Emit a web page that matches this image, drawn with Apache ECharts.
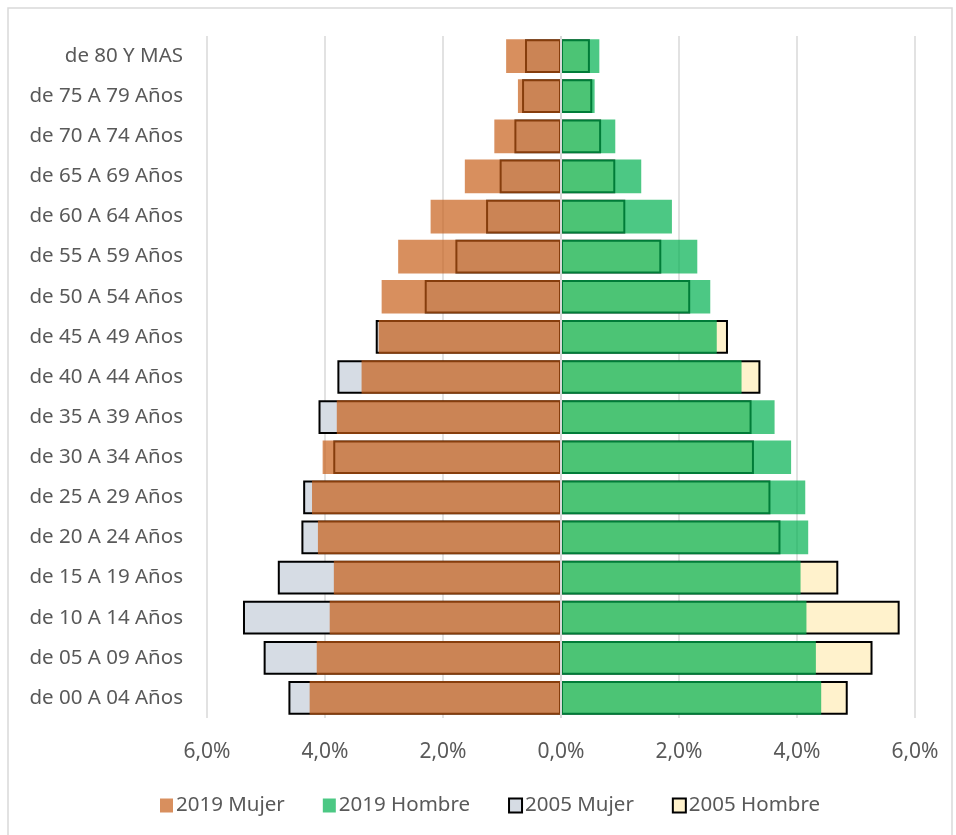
<!DOCTYPE html>
<html>
<head>
<meta charset="utf-8">
<script src="https://cdn.jsdelivr.net/npm/echarts@6/dist/echarts.min.js"></script>
<style>
  html, body { margin: 0; padding: 0; background: #fff; }
  #chart { width: 956px; height: 835px; }
</style>
</head>
<body>
<div id="chart"></div>
<script>
  // grupos de edad, de abajo hacia arriba
  const categories = [
    'de 00 A 04 Años', 'de 05 A 09 Años', 'de 10 A 14 Años', 'de 15 A 19 Años',
    'de 20 A 24 Años', 'de 25 A 29 Años', 'de 30 A 34 Años', 'de 35 A 39 Años',
    'de 40 A 44 Años', 'de 45 A 49 Años', 'de 50 A 54 Años', 'de 55 A 59 Años',
    'de 60 A 64 Años', 'de 65 A 69 Años', 'de 70 A 74 Años', 'de 75 A 79 Años',
    'de 80 Y MAS'
  ];
  // porcentajes (%)
  const mujer2019  = [4.26, 4.14, 3.92, 3.85, 4.12, 4.22, 4.04, 3.80, 3.38, 3.09, 3.04, 2.76, 2.21, 1.63, 1.13, 0.73, 0.93];
  const hombre2019 = [4.41, 4.32, 4.16, 4.06, 4.19, 4.14, 3.90, 3.62, 3.06, 2.64, 2.53, 2.31, 1.88, 1.36, 0.92, 0.57, 0.65];
  const mujer2005  = [4.62, 5.04, 5.39, 4.80, 4.40, 4.37, 3.86, 4.11, 3.79, 3.14, 2.31, 1.79, 1.27, 1.04, 0.79, 0.66, 0.61];
  const hombre2005 = [4.86, 5.28, 5.74, 4.70, 3.72, 3.55, 3.27, 3.23, 3.38, 2.83, 2.19, 1.70, 1.09, 0.92, 0.68, 0.53, 0.49];
  const xTicks = [-6, -4, -2, 0, 2, 4, 6];

  const FONT = '"Noto Sans", sans-serif';
  const TXT = '#595959';

  const myChart = echarts.init(document.getElementById('chart'));

  myChart.setOption({
    animation: false,
    graphic: [{
      type: 'rect',
      shape: { x: 8, y: 8, width: 944, height: 840 },
      style: { fill: 'none', stroke: '#D9D9D9', lineWidth: 1.5 },
      silent: true
    }],
    grid: { left: 207, right: 41, top: 36, bottom: 117 },
    legend: {
      data: ['2019 Mujer', '2019 Hombre', '2005 Mujer', '2005 Hombre'],
      bottom: 19,
      left: 160,
      padding: 0,
      icon: 'rect',
      itemWidth: 13,
      itemHeight: 14,
      itemGap: 38,
      textStyle: { fontFamily: FONT, fontSize: 20.5, color: TXT, padding: [0, 0, 0, -2] }
    },
    xAxis: {
      type: 'value',
      min: xTicks[0],
      max: xTicks[xTicks.length - 1],
      interval: 2,
      axisLine: { show: false },
      axisTick: { show: false },
      splitLine: { lineStyle: { color: '#D9D9D9', width: 1.5 } },
      axisLabel: {
        margin: 24,
        fontFamily: FONT, fontSize: 21, color: TXT,
        formatter: v => Math.abs(v).toFixed(1).replace('.', ',') + '%'
      }
    },
    yAxis: {
      type: 'category',
      data: categories,
      axisLine: { show: false },
      axisTick: { show: false },
      axisLabel: { margin: 24, fontFamily: FONT, fontSize: 20.5, color: TXT }
    },
    series: [
      {
        name: '2005 Mujer', type: 'bar', barGap: '-100%', barCategoryGap: '16%', z: 2,
        data: mujer2005.map(v => -v),
        itemStyle: { color: '#D6DCE4', borderColor: '#000', borderWidth: 2 }
      },
      {
        name: '2005 Hombre', type: 'bar', barGap: '-100%', barCategoryGap: '16%', z: 2,
        data: hombre2005,
        itemStyle: { color: '#FFF2CC', borderColor: '#000', borderWidth: 2 }
      },
      {
        name: '2019 Mujer', type: 'bar', barGap: '-100%', barCategoryGap: '16%', z: 3,
        data: mujer2019.map(v => -v),
        itemStyle: { color: '#C55A11', opacity: 0.68 }
      },
      {
        name: '2019 Hombre', type: 'bar', barGap: '-100%', barCategoryGap: '16%', z: 3,
        data: hombre2019,
        itemStyle: { color: '#00B050', opacity: 0.7 },
        markLine: {
          silent: true,
          symbol: 'none',
          label: { show: false },
          lineStyle: { color: '#D9D9D9', width: 2, type: 'solid' },
          data: [{ xAxis: 0 }],
          z: 10
        }
      }
    ]
  });
</script>
</body>
</html>
